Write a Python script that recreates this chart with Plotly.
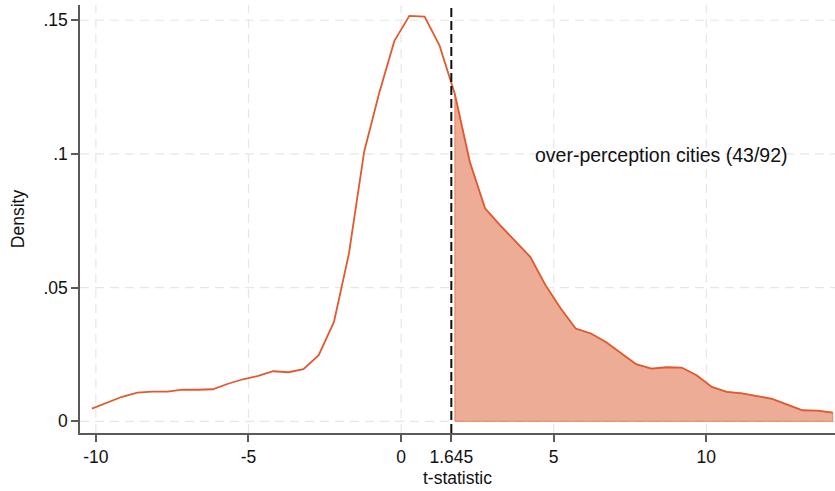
import plotly.graph_objects as go

# Kernel density estimate of the city-level t-statistics (50 evaluation points)
t_grid = [-10.13, -9.63, -9.14, -8.64, -8.15, -7.65, -7.16, -6.66, -6.17, -5.67,
          -5.18, -4.68, -4.19, -3.69, -3.20, -2.70, -2.20, -1.71, -1.21, -0.72,
          -0.22, 0.27, 0.77, 1.26, 1.76, 2.25, 2.75, 3.24, 3.74, 4.23,
          4.73, 5.23, 5.72, 6.22, 6.71, 7.21, 7.70, 8.20, 8.69, 9.19,
          9.68, 10.18, 10.67, 11.17, 11.66, 12.16, 12.65, 13.15, 13.64, 14.14]
density = [0.00475, 0.00693, 0.00917, 0.01074, 0.01112, 0.01112, 0.01187, 0.01179, 0.01198, 0.01404,
           0.01572, 0.01696, 0.01872, 0.01834, 0.01947, 0.02471, 0.03718, 0.06267, 0.10082, 0.12269,
           0.14227, 0.15163, 0.15137, 0.14051, 0.12243, 0.09708, 0.07963, 0.07338, 0.06739, 0.06151,
           0.05092, 0.04219, 0.03471, 0.03283, 0.02969, 0.02535, 0.02134, 0.01973, 0.02022, 0.02010,
           0.01722, 0.01284, 0.01097, 0.01048, 0.00936, 0.00835, 0.00625, 0.00412, 0.00401, 0.00326]

critical_value = 1.645
x_ticks = [-10, -5, 0, critical_value, 5, 10]
x_tick_text = ["-10", "-5", "0", "1.645", "5", "10"]
y_ticks = [0, 0.05, 0.10, 0.15]
y_tick_text = ["0", ".05", ".1", ".15"]
note_text = "over-perception cities (43/92)"
note_pos = (4.31, 0.0995)

LINE = "#E15A2F"
FILL = "#EDAC96"
AXIS = "#5a5a5a"
GRID = "#e6e6e6"
FONT = "Liberation Sans, Arial, sans-serif"

# Right tail beyond the one-sided 5% critical value
tail = [(t, d) for t, d in zip(t_grid, density) if t >= critical_value]
tail_x = [tail[0][0]] + [t for t, _ in tail] + [tail[-1][0], tail[0][0]]
tail_y = [0] + [d for _, d in tail] + [0, 0]

fig = go.Figure()

fig.add_trace(go.Scatter(
    x=tail_x, y=tail_y, mode="lines", fill="toself", fillcolor=FILL,
    line=dict(color="rgba(225,90,47,0.55)", width=1.2), hoverinfo="skip",
))
fig.add_trace(go.Scatter(
    x=t_grid, y=density, mode="lines",
    line=dict(color=LINE, width=1.8), hoverinfo="skip",
))

x_range = [-10.52, 14.215]
y_range = [-0.00438, 0.1557]

shapes = []
# dashed gridlines
for v in x_ticks:
    if v == critical_value:
        continue
    shapes.append(dict(type="line", xref="x", yref="paper", x0=v, x1=v, y0=0, y1=1,
                       line=dict(color=GRID, width=1.2, dash="9px,6px"), layer="below"))
for v in y_ticks:
    shapes.append(dict(type="line", xref="paper", yref="y", x0=0, x1=1, y0=v, y1=v,
                       line=dict(color=GRID, width=1.2, dash="9px,6px"), layer="below"))
# critical value marker
shapes.append(dict(type="line", xref="x", yref="paper", x0=critical_value, x1=critical_value,
                   y0=0, y1=1, line=dict(color="#111111", width=2, dash="9px,4px")))

fig.update_layout(
    width=835, height=491,
    margin=dict(l=80, r=0, t=5, b=58),
    paper_bgcolor="white", plot_bgcolor="white",
    showlegend=False,
    font=dict(family=FONT, size=17, color="#111111"),
    shapes=shapes,
    xaxis=dict(
        range=x_range, showgrid=False, zeroline=False,
        tickmode="array", tickvals=x_ticks, ticktext=x_tick_text,
        ticks="outside", ticklen=7, tickwidth=1.5, tickcolor=AXIS,
        showline=True, linecolor=AXIS, linewidth=1.5,
        tickfont=dict(size=17.5, family=FONT, color="#111111"),
        title=dict(text="t-statistic", font=dict(size=17.5, family=FONT), standoff=6),
    ),
    yaxis=dict(
        range=y_range, showgrid=False, zeroline=False,
        tickmode="array", tickvals=y_ticks, ticktext=y_tick_text,
        ticks="outside", ticklen=7, tickwidth=1.5, tickcolor=AXIS,
        showline=True, linecolor=AXIS, linewidth=1.5,
        tickfont=dict(size=17.5, family=FONT, color="#111111"),
        title=dict(text="Density", font=dict(size=17.5, family=FONT), standoff=14),
    ),
    annotations=[dict(
        x=note_pos[0], y=note_pos[1], xref="x", yref="y", text=note_text,
        showarrow=False, xanchor="left", yanchor="middle",
        font=dict(size=19.5, family=FONT, color="#111111"),
    )],
)

fig.write_html("out.html")
